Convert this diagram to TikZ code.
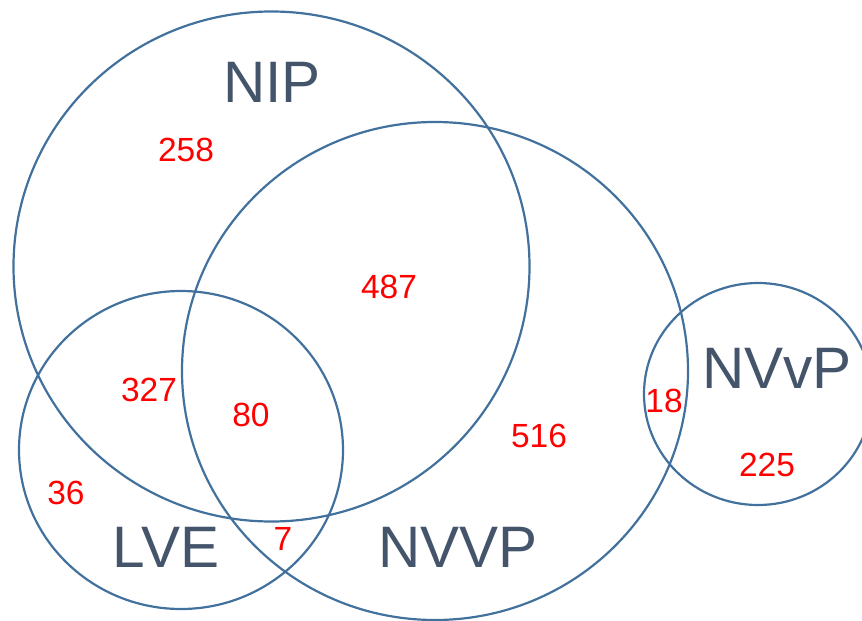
\documentclass[tikz,border=0pt]{standalone}
\usepackage{fontspec}
\setmainfont{Liberation Sans}
\usetikzlibrary{shapes.geometric}
\definecolor{ring}{HTML}{41719C}
\definecolor{setlab}{HTML}{44546A}
\definecolor{cnt}{HTML}{FF0000}
\begin{document}
\begin{tikzpicture}[x=1pt,y=-1pt,
  setring/.style={draw=ring,line width=2.2pt,ellipse,inner sep=0pt,outer sep=0pt},
  setname/.style={text=setlab,inner sep=0pt,font=\fontsize{58.5}{60}\selectfont},
  count/.style={text=cnt,inner sep=0pt,font=\fontsize{33.5}{36}\selectfont}]
\useasboundingbox (0,0) rectangle (862,621);
\begin{scope}
\clip (0,0) rectangle (862,621);
\node[setring,minimum width=516pt,minimum height=510pt] (nip) at (271.5,266.5) {};
\node[setring,minimum width=506pt,minimum height=498pt] (nvvp) at (435,371) {};
\node[setring,minimum width=324pt,minimum height=318pt] (lve) at (181,450) {};
\node[setring,minimum width=228pt,minimum height=222pt] (nvvp2) at (758,394) {};
\end{scope}
\node[setname] (lnip) at (272,82) {NIP};
\node[setname] (llve) at (166,547.5) {LVE};
\node[setname] (lnvvp) at (458,547.5) {NVVP};
\node[setname] (lnvvp2) at (777,368) {NVvP};
\node[count] (c258) at (186,150) {258};
\node[count] (c487) at (389,287) {487};
\node[count] (c327) at (149,390) {327};
\node[count] (c80) at (251,414.5) {80};
\node[count] (c36) at (66,493) {36};
\node[count] (c7) at (283,539) {7};
\node[count] (c516) at (539,436) {516};
\node[count] (c18) at (664,401) {18};
\node[count] (c225) at (767,465) {225};
\end{tikzpicture}
\end{document}
